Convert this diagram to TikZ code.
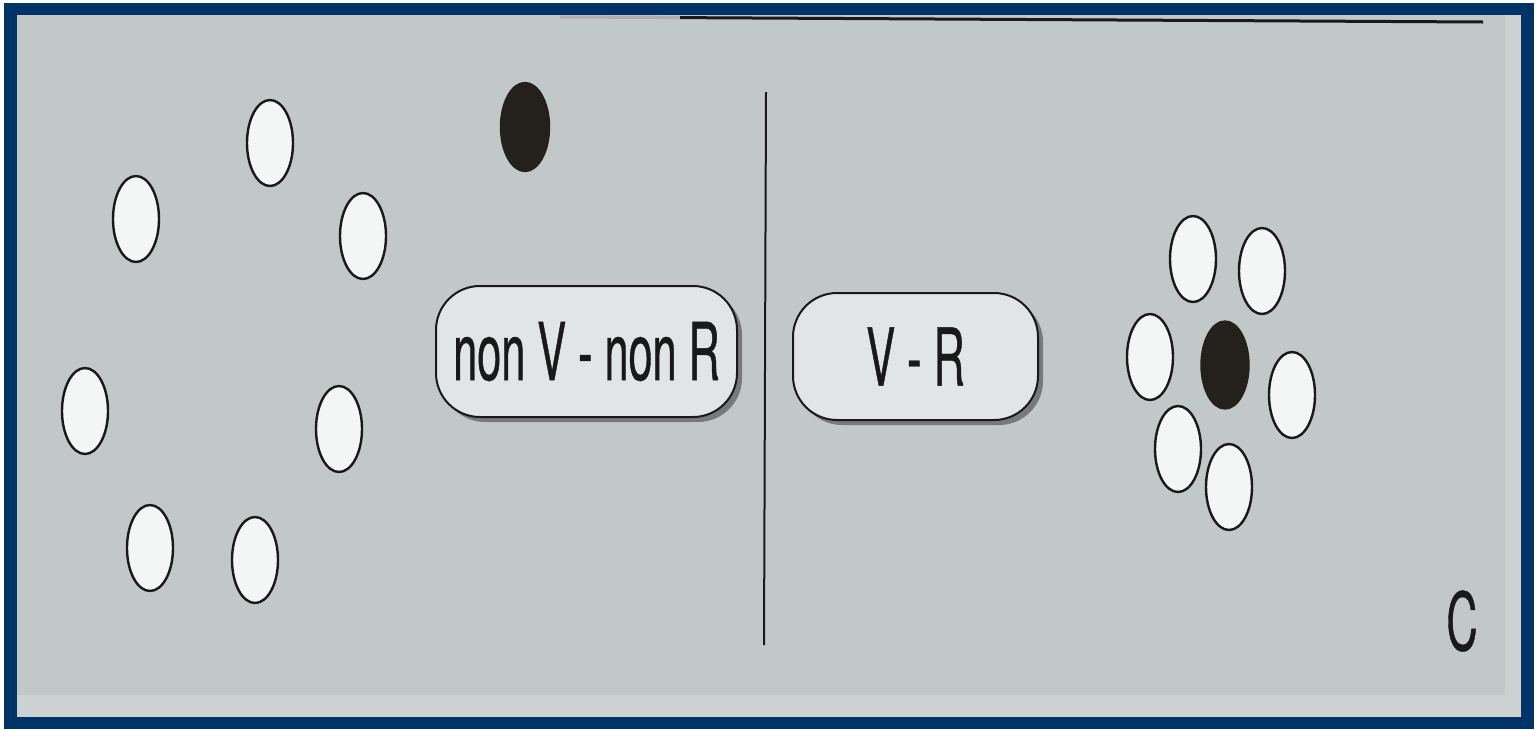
\documentclass[tikz,border=0pt]{standalone}
\usepackage{fontspec}
\usepackage{xcolor}
\usepackage{tikz}
\usetikzlibrary{shapes.geometric, shadows, positioning}
\newfontfamily\narrowsf[FakeStretch=0.54, FakeBold=0.5]{TeX Gyre Heros}
\definecolor{FrameBlue}{RGB}{0, 51, 102}
\definecolor{PaperGray}{RGB}{194, 199, 199}
\definecolor{PaperLight}{RGB}{204, 209, 209}
\definecolor{TagFill}{RGB}{226, 229, 229}
\definecolor{ShadeGray}{RGB}{118, 122, 122}
\definecolor{BallWhite}{RGB}{244, 246, 246}
\definecolor{BallBlack}{RGB}{36, 32, 27}
\definecolor{InkBlack}{RGB}{25, 25, 25}
\tikzset{
  wball/.style={ellipse, minimum width=23pt, minimum height=43pt,
    inner sep=0pt, draw=InkBlack, line width=1.2pt, fill=BallWhite},
  bball/.style={wball, minimum width=24pt, minimum height=44pt,
    fill=BallBlack, draw=BallBlack},
  tag/.style={rectangle, rounded corners=22pt, inner sep=0pt,
    draw=InkBlack, line width=1pt, fill=TagFill, text=InkBlack,
    font=\narrowsf\fontsize{40}{44}\selectfont,
    drop shadow={shadow xshift=2.5pt, shadow yshift=-2.5pt,
      fill=ShadeGray, opacity=1}},
  divline/.style={line width=1pt, draw=InkBlack},
}

\begin{document}
\begin{tikzpicture}[x=0.5pt, y=-0.5pt]
  \useasboundingbox (0,0) rectangle (1537,729);
  % frame and paper
  \fill[white] (0,0) rectangle (1537,729);
  \fill[FrameBlue] (4,3) rectangle (1534,729);
  \fill[PaperGray] (17,15) rectangle (1521,717);
  \fill[PaperLight] (17,695) rectangle (1521,717);
  \fill[PaperLight] (1505,15) rectangle (1521,717);
  \draw[divline, line width=1.5pt, InkBlack!35] (560,17) -- (680,17.6);
  \draw[divline, line width=1.5pt] (680,17.6) -- (1483,22);
  \draw[divline] (766,92) -- (764,645);
  % left side: spread out
  \node[bball] (ionL) at (525,127) {};
  \node[wball] (wL1) at (270,143) {};
  \node[wball] (wL2) at (136,219) {};
  \node[wball] (wL3) at (363,236) {};
  \node[wball] (wL4) at (85,411) {};
  \node[wball] (wL5) at (339,429) {};
  \node[wball] (wL6) at (150,548) {};
  \node[wball] (wL7) at (255,560) {};
  % labels
  \node[tag, minimum width=150.5pt, minimum height=65.5pt] (nvnr)
    at (586.5,351.5) {non V - non R};
  \node[tag, minimum width=122.5pt, minimum height=63.5pt] (vr)
    at (915.5,356.5) {V - R};
  % right side: shell round the ion
  \node[bball, minimum width=23.5pt, minimum height=43.5pt] (ionR) at (1225,365) {};
  \node[wball] (wR1) at (1193,259) {};
  \node[wball] (wR2) at (1262,271) {};
  \node[wball] (wR3) at (1150,357) {};
  \node[wball] (wR4) at (1292,395) {};
  \node[wball] (wR5) at (1178,449) {};
  \node[wball] (wR6) at (1229,487) {};
  \node[text=InkBlack, font=\narrowsf\fontsize{40}{44}\selectfont,
        inner sep=0pt] (panel) at (1462,621) {C};
\end{tikzpicture}
\end{document}
